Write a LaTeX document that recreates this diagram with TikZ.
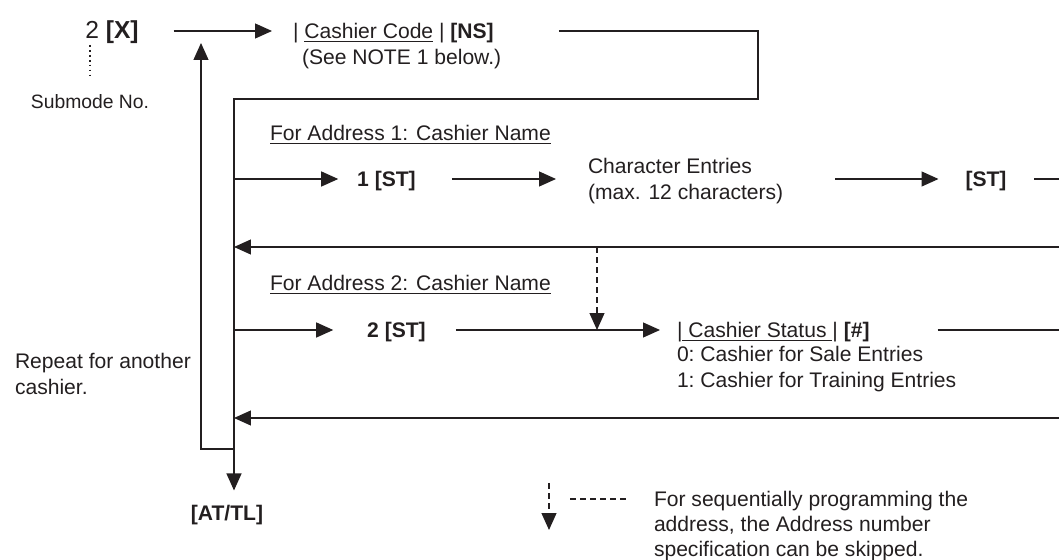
\documentclass[tikz,border=0pt]{standalone}
\usepackage{fontspec}
\setmainfont{Liberation Sans}
\usetikzlibrary{arrows.meta,positioning}
\definecolor{ink}{HTML}{231F20}

\begin{document}
\begin{tikzpicture}[x=0.02cm,y=-0.02cm,
  font=\fontsize{12}{14.8}\selectfont, text=ink,
  every node/.style={inner sep=0pt,outer sep=0pt},
  txt/.style={text height=8.6pt,text depth=0pt},
  flow/.style={draw=ink,line width=0.7pt},
  arr/.style={flow,-{Triangle[length=3.4mm,width=3mm]}},
  skip/.style={arr,dash pattern=on 3.4pt off 2.3pt}]
  \useasboundingbox (0,0) rectangle (1059,560);

  % Submode entry
  \node[txt,font=\fontsize{14}{16}\selectfont] (mode) at (112,31) {2 \textbf{[X]}};
  \node[txt,font=\fontsize{11}{13}\selectfont] (modeno) at (90,101) {Submode No.};
  \draw[ink,line width=1pt,dash pattern=on 1pt off 1.8pt] (90,45) -- (90,76);

  % Cashier code and the bus down to [AT/TL]
  \node[txt,anchor=west] (code) at (293,31) {| \underline{Cashier Code} | \textbf{[NS]}};
  \node[txt,anchor=west] (note) at (302,57) {(See NOTE 1 below.)};
  \node[txt] (finish) at (227,513) {\textbf{[AT/TL]}};
  \coordinate (topright) at (758,31);
  \coordinate (bend) at (758,99);
  \coordinate (bus) at (234,99);
  \draw[arr,shorten <=0.7cm,shorten >=0.42cm] (mode.east) -- (code.west);
  \draw[arr,shorten <=1.3cm,shorten >=0.3cm] (code.east) -- (topright) -- (bend) -- (bus) -- (bus |- finish.north);

  % Address 1
  \node[anchor=base west] (addr1) at (270,140.5) {\underline{For Address 1: Cashier Name}};
  \node[txt] (st1) at (386.5,179) {\textbf{1 [ST]}};
  \node[anchor=west,align=left] (chars) at (588,181) {Character Entries\\(max. 12 characters)};
  \node[txt] (st1b) at (986,179) {\textbf{[ST]}};
  \coordinate (edge1) at (1059,179);
  \coordinate (back1) at (1059,247);
  \draw[arr,shorten >=0.38cm] (bus |- st1) -- (st1.west);
  \draw[arr,shorten <=0.72cm,shorten >=0.64cm] (st1.east) -- (st1 -| chars.west);
  \draw[arr,shorten <=1.04cm,shorten >=0.54cm] (st1 -| chars.east) -- (st1b.west);
  \draw[flow,shorten <=0.56cm] (st1b.east) -- (edge1);
  \draw[arr] (back1) -- (bus |- back1);

  % Address 2
  \node[anchor=base west] (addr2) at (270,290.5) {\underline{For Address 2: Cashier Name}};
  \node[txt] (st2) at (396.5,330) {\textbf{2 [ST]}};
  \node[txt,anchor=west] (status) at (677,330) {|\underline{ Cashier Status }| \textbf{[\#]}};
  \node[txt,anchor=west] (opt0) at (677,354) {0:~Cashier for Sale Entries};
  \node[txt,anchor=west] (opt1) at (677,380) {1:~Cashier for Training Entries};
  \coordinate (edge2) at (1059,330);
  \coordinate (back2) at (1059,418);
  \coordinate (skiptop) at (597,247);
  \draw[arr,shorten >=0.68cm] (bus |- st2) -- (st2.west);
  \draw[arr,shorten <=0.6cm,shorten >=0.34cm] (st2.east) -- (status.west);
  \draw[flow,shorten <=1.36cm] (status.east) -- (edge2);
  \draw[skip] (skiptop) -- (skiptop |- st2);
  \draw[arr] (back2) -- (bus |- back2);

  % Repeat loop
  \node[anchor=north west,align=left] (again) at (15,353) {Repeat for another\\cashier.};
  \coordinate (loopin) at (234,449);
  \coordinate (loopcorner) at (201,449);
  \coordinate (looptop) at (201,43);
  \draw[arr] (loopin) -- (loopcorner) -- (looptop);

  % Key
  \coordinate (keytop) at (549,483);
  \coordinate (keydash) at (570,499);
  \node[anchor=north west,align=left,font=\fontsize{12}{14.2}\selectfont] (legend) at (654,491)
    {For sequentially programming the\\address, the Address number\\specification can be skipped.};
  \draw[skip] (keytop) -- ++(0,47);
  \draw[flow,dash pattern=on 3.4pt off 2.3pt] (keydash) -- ++(59,0);
\end{tikzpicture}
\end{document}
